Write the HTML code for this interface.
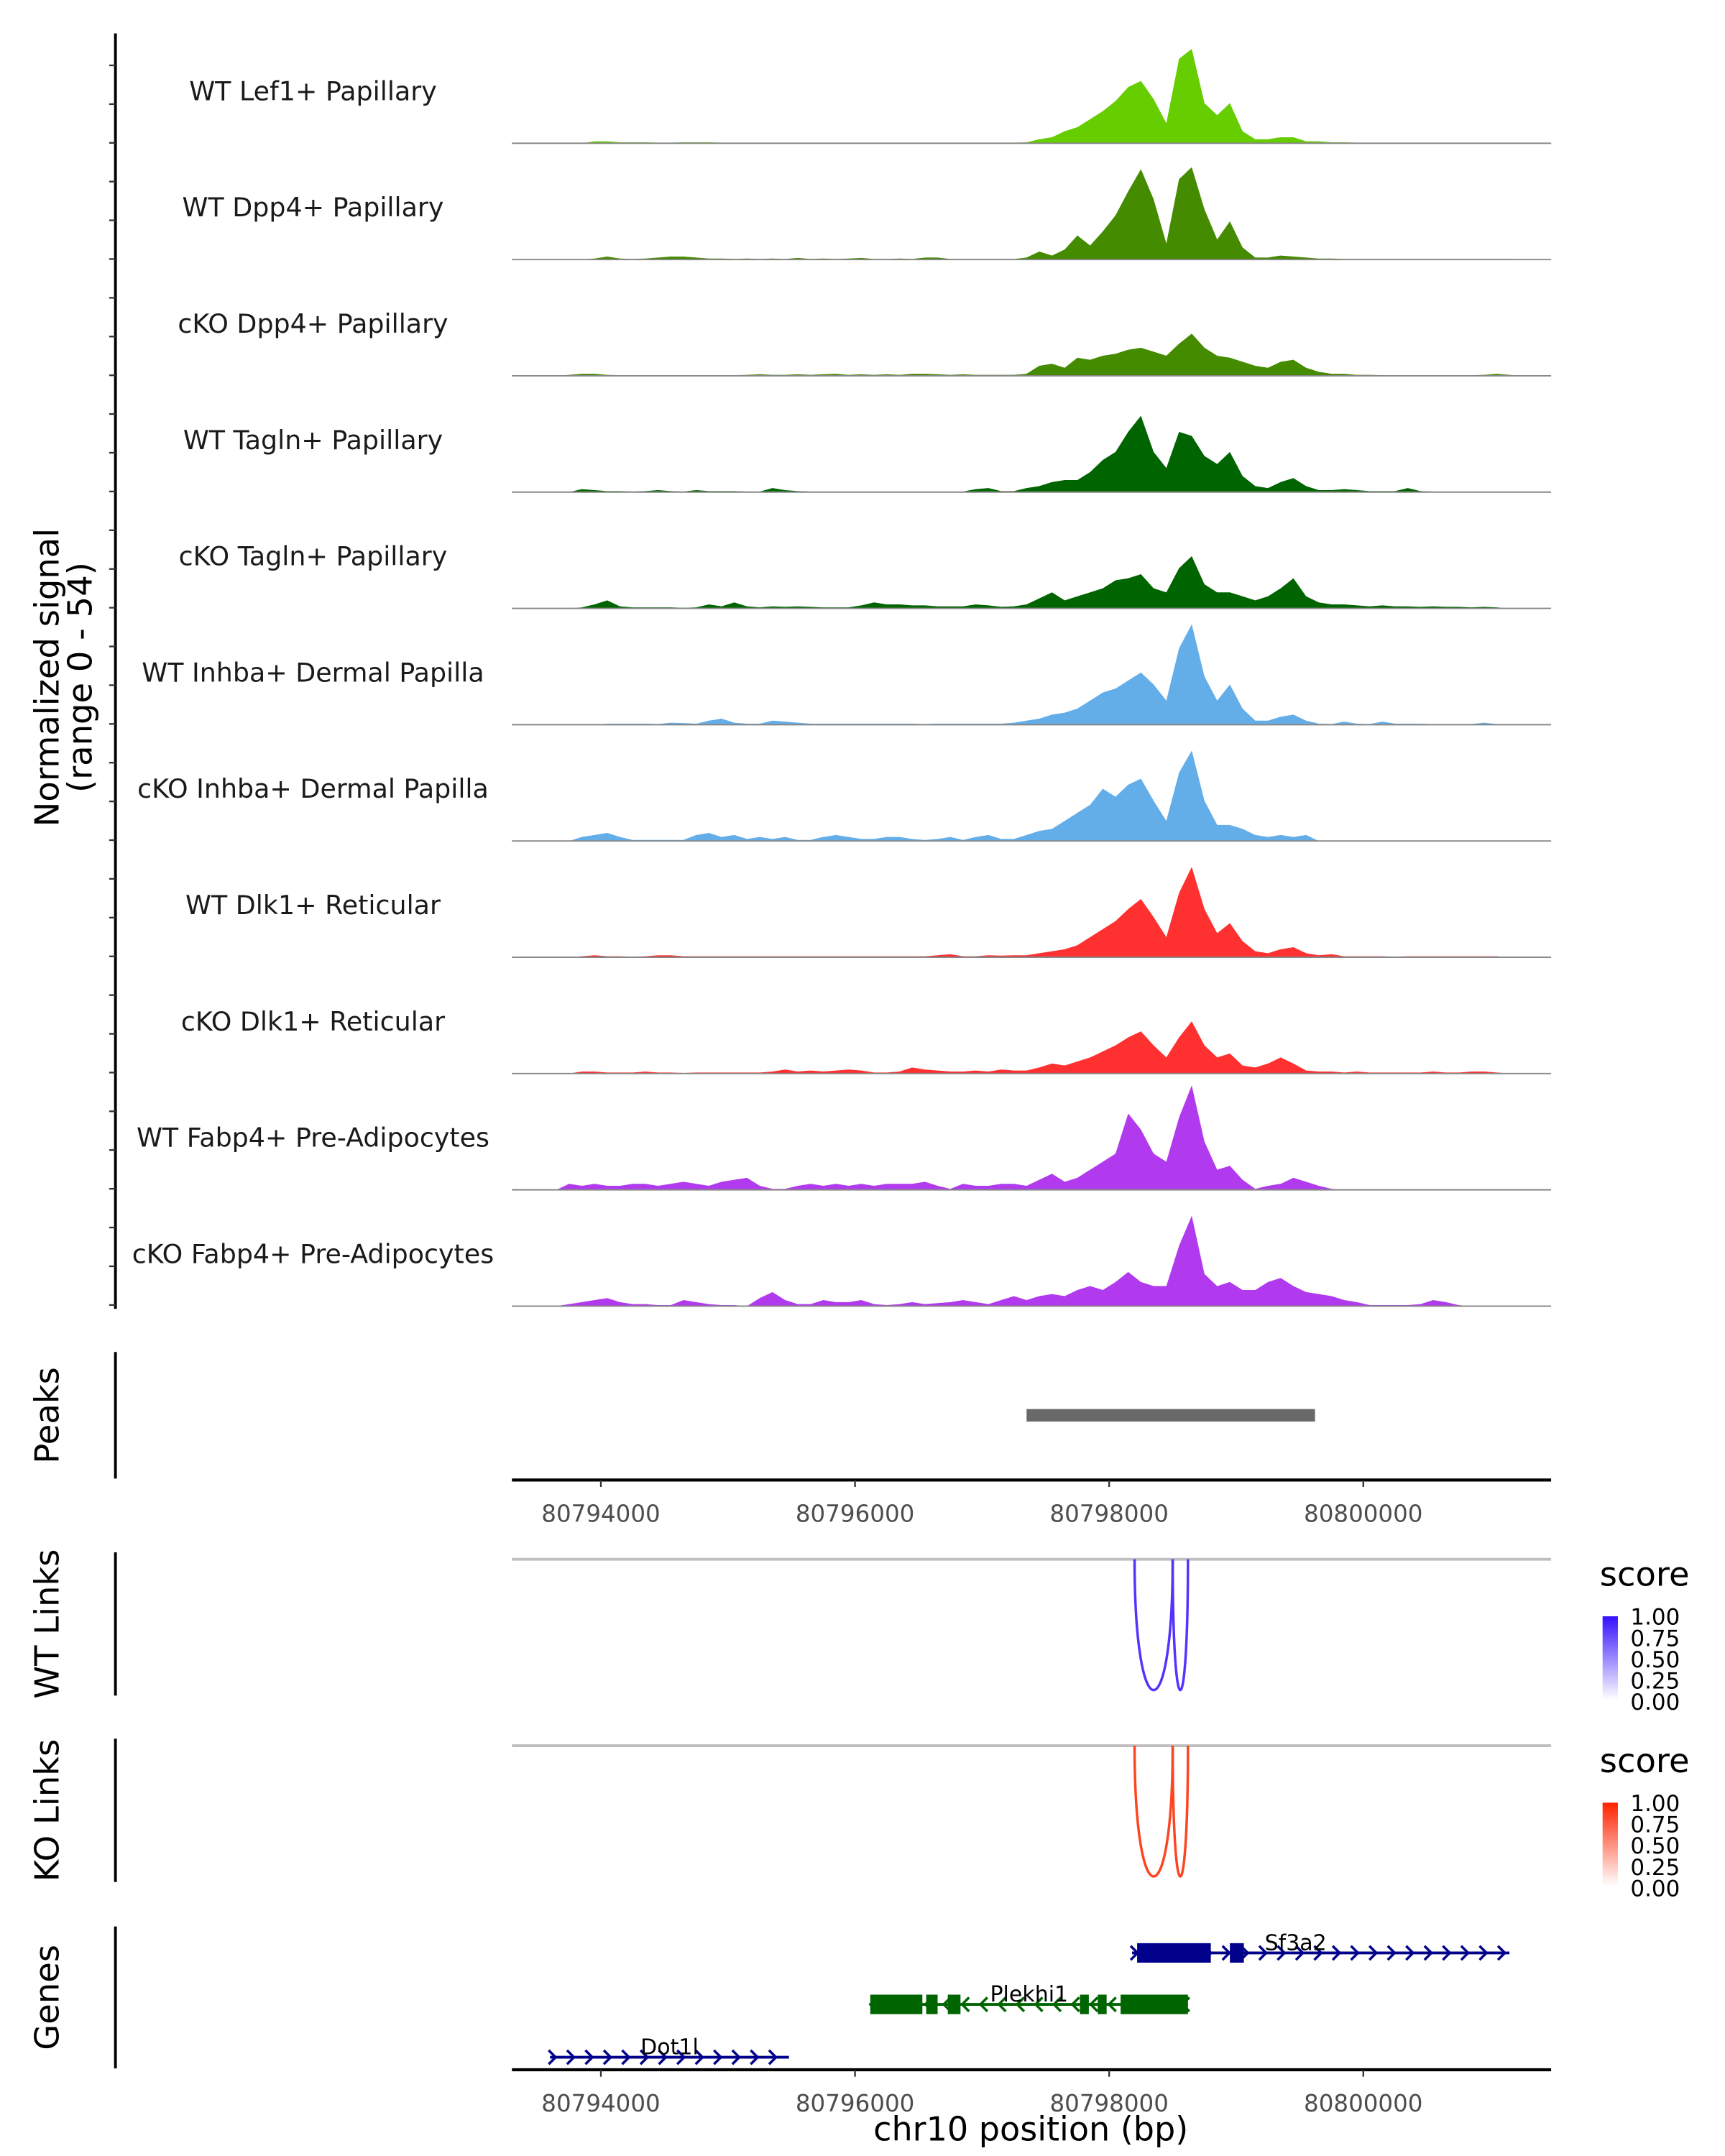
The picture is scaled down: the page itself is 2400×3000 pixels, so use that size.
<!DOCTYPE html>
<html><head><meta charset="utf-8"><style>
html,body{margin:0;padding:0;background:#fff}
svg{display:block}
text{font-family:"DejaVu Sans","Liberation Sans",sans-serif}
</style></head><body>
<svg id="chart" xmlns="http://www.w3.org/2000/svg" width="2400" height="3000" viewBox="0 0 1240 1550">
<rect width="1240" height="1550" fill="#fff"/>
<g id="g"></g>
</svg>
<script>
const trackNames=["WT Lef1+ Papillary","WT Dpp4+ Papillary","cKO Dpp4+ Papillary","WT Tagln+ Papillary","cKO Tagln+ Papillary","WT Inhba+ Dermal Papilla","cKO Inhba+ Dermal Papilla","WT Dlk1+ Reticular","cKO Dlk1+ Reticular","WT Fabp4+ Pre-Adipocytes","cKO Fabp4+ Pre-Adipocytes"];
const trackColors=["#66CD00","#458B00","#458B00","#006400","#006400","#63ADE9","#63ADE9","#FF3030","#FF3030","#B23AEE","#B23AEE"];
const binStart=80793300, binSize=100;
const sigLef1WT=[0,0,0,0,0,0,1,1,0.5,0.5, 0.5,0.3,0.3,0.5,0.5,0.5,0.3,0.3,0.2,0.2, 0.2,0.2,0.2,0.2,0.2,0.2,0.2,0.2,0.2,0.2, 0.2,0.2,0.2,0.2,0.2,0.3,0.3,0.3,0.3,0.3, 0.5,2,3,6,8,12,16,21,28,31, 22,10,42,47,20,14,20,6,2,2, 3,3,1,1,0.5,0.5,0.3,0.3,0.2,0.2, 0.2,0.2,0.2,0.2,0.2,0.2,0.2,0.2,0.2,0.2,0.2,0.2];
const sigDpp4WT=[0,0,0,0,0,0,0.5,1.5,0.5,0.3, 0.5,1,1.5,1.5,1,0.5,0.5,0.3,0.5,0.3, 0.5,0.3,0.8,0.3,0.5,0.3,0.5,0.8,0.3,0.3, 0.5,0.3,1,1,0.3,0.3,0.3,0.3,0.3,0.3, 1,4,2,5,12,7,14,22,34,45, 30,8,40,46,25,10,19,6,1,1, 2,1.5,1,0.5,0.5,0.3,0.3,0.3,0.3,0.3, 0.3,0.3,0.3,0.3,0.3,0.3,0.3,0.3,0.3,0,0,0];
const sigDpp4KO=[0,0,0,0,0.5,1,1,0.5,0.3,0.3, 0.3,0.3,0.3,0.3,0.3,0.3,0.3,0.3,0.5,0.8, 0.5,0.5,0.8,0.5,0.8,1,0.5,0.8,0.5,0.8, 0.5,1,1,0.8,0.5,0.8,0.5,0.5,0.5,0.5, 1,5,6,4,9,8,10,11,13,14, 12,10,16,21,14,10,9,7,5,4, 7,8,4,2,1,1,0.5,0.5,0.3,0.3, 0.3,0.3,0.3,0.3,0.3,0.3,0.5,1,0.5,0,0,0];
const sigTaglnWT=[0,0,0,0,0,1.5,1,0.5,0.5,0.3, 0.5,1,0.5,0.3,1,0.5,0.5,0.5,0.3,0.3, 2,1,0.5,0.3,0.3,0.3,0.3,0.3,0.3,0.3, 0.3,0.3,0.3,0.3,0.3,0.3,1.5,2,0.5,0.5, 2,3,5,6,6,10,16,20,30,38, 20,12,30,28,18,14,20,8,3,2, 5,7,3,1,1,1.5,1,0.5,0.5,0.5, 2,0.5,0.3,0.3,0.3,0.3,0.3,0.3,0,0,0,0];
const sigTaglnKO=[0,0,0,0,0,0.5,2,4,1,0.5, 0.5,0.5,0.5,0.3,0.5,2,1,3,1,0.5, 1,0.8,1,0.8,0.5,0.5,0.5,1.5,3,2, 2,1.5,1.5,1,1,1,2,1.5,0.8,1, 2,5,8,4,6,8,10,14,15,17, 10,8,20,26,12,8,8,6,4,6, 10,15,6,3,2,2,1.5,1,1.5,1, 1,0.8,1,0.8,0.8,0.5,0.8,0.5,0,0,0,0];
const sigInhbaWT=[0,0,0,0,0,0,0,0.5,0.5,0.5, 0.5,0.3,1,0.8,0.5,2,3,1,0.5,0.5, 2,1.5,1,0.5,0.5,0.5,0.5,0.5,0.5,0.5, 0.5,0.5,0.3,0.5,0.5,0.5,0.5,0.5,0.5,1, 2,3,5,6,8,12,16,18,22,26, 20,12,38,50,24,12,20,8,2,2, 4,5,2,0.5,0.3,1.5,0.5,0.3,1.5,0.5, 0.5,0.5,0.3,0.3,0.3,0.3,1,0.3,0,0,0,0];
const sigInhbaKO=[0,0,0,0,0,2,3,4,2,0.5, 0.5,0.5,0.5,0.5,3,4,2,3,1,2, 1,2,0.5,0.5,2,3,2,1,1,2, 2,1,0.5,1,2,0.5,2,3,1,1, 3,5,6,10,14,18,26,22,28,31, 20,10,34,45,20,8,8,6,3,2, 3,2,3,0,0,0,0,0,0,0, 0,0,0,0,0,0,0,0,0,0,0,0];
const sigDlk1WT=[0,0,0,0,0,0.5,1,0.5,0.5,0.3, 0.5,1,1,0.5,0.5,0.5,0.5,0.5,0.5,0.5, 0.5,0.5,0.5,0.5,0.5,0.5,0.5,0.5,0.5,0.5, 0.5,0.5,0.5,1,1.5,0.5,0.5,1,0.8,1, 1,2,3,4,6,10,14,18,24,29, 20,10,32,45,24,12,17,8,3,2, 4,5,2,1,1.5,0.5,0.5,0.5,0.5,0.3, 0.5,0.5,0.5,0.5,0.5,0.5,0.5,0.5,0,0,0,0];
const sigDlk1KO=[0,0,0,0,0,1,1,0.5,0.5,0.5, 1,0.5,0.5,0.3,0.5,0.5,0.5,0.5,0.5,0.5, 1,2,1,1.5,1,1.5,2,1.5,0.5,0.5, 1,3,2,1.5,1,1,1.5,1,2,1.5, 1.5,3,5,4,6,8,11,14,18,21, 14,8,18,26,14,8,10,4,3,5, 8,5,1.5,1,1,0.5,1,0.5,0.5,0.5, 0.5,0.5,1,0.5,0.5,1,1,0.5,0,0,0,0];
const sigFabp4WT=[0,0,0,0,3,2,3,2,2,3, 3,2,3,4,3,2,4,5,6,2, 0.5,0.5,2,3,2,3,2,3,2,3, 3,3,4,2,0.5,3,2,2,3,3, 2,5,8,4,6,10,14,18,38,30, 18,14,36,52,24,10,12,5,0.5,2, 3,6,4,2,0.5,0,0,0,0,0, 0,0,0,0,0,0,0,0,0,0,0,0];
const sigFabp4KO=[0,0,0,0,1,2,3,4,2,1, 1,0.5,0.5,3,2,1,0.5,0.5,0,4, 7,3,1,1,3,2,2,3,1,0.5, 1,2,1,1.5,2,3,2,1,3,5, 3,5,6,5,8,10,8,12,17,12, 10,10,30,45,16,10,12,8,8,12, 14,10,7,6,5,3,2,0.5,0.5,0.5, 0.5,1,3,2,0.5,0,0,0,0,0,0,0];
const signals=[sigLef1WT,sigDpp4WT,sigDpp4KO,sigTaglnWT,sigTaglnKO,sigInhbaWT,sigInhbaKO,sigDlk1WT,sigDlk1KO,sigFabp4WT,sigFabp4KO];
const signalMax=54;
const xTicks=[80794000,80796000,80798000,80800000];
const peakStart=80797350, peakEnd=80799620;
const wtLinks=[[80798200,80798500,1.0],[80798500,80798620,1.0]];
const koLinks=[[80798200,80798500,1.0],[80798500,80798620,1.0]];
const legendTicks=["1.00","0.75","0.50","0.25","0.00"];
const geneNames=["Sf3a2","Plekhi1","Dot1l"];
const geneStart=[80798180,80796120,80793600];
const geneEnd=[80801150,80798620,80795480];
const geneStrand=[1,-1,1];
const geneExons=[[[80798220,80798800],[80798950,80799060]],[[80796120,80796530],[80796560,80796650],[80796730,80796830],[80797770,80797840],[80797910,80797980],[80798090,80798620]],[]];
const geneColors=["#00008B","#006400","#00008B"];

const NS="http://www.w3.org/2000/svg";
const G=document.getElementById('g');
function mk(tag,attrs,parent){const e=document.createElementNS(NS,tag);for(const k in attrs)e.setAttribute(k,attrs[k]);(parent||G).appendChild(e);return e;}
const X0=80793300,X1=80801478,PX0=368,PX1=1115;
function xs(bp){return PX0+(bp-X0)*(PX1-PX0)/(X1-X0);}
const trackH=83.6, base0=103, unitPx=78/signalMax;
function ys(k,v){return base0+k*trackH-v*unitPx;}

let e=mk('line',{x1:83,y1:24,x2:83,y2:941,stroke:'#000','stroke-width':2});


for(let y=47;y<=941;y+=27.85){
  e=mk('line',{x1:78.5,y1:y,x2:83,y2:y,stroke:'#333','stroke-width':1.2});
  
  
}
e=mk('text',{x:0,y:0,transform:'translate(42,487) rotate(-90)','text-anchor':'middle','font-size':24,fill:'#000'});
e.textContent='Normalized signal';


e=mk('text',{x:0,y:0,transform:'translate(66,487) rotate(-90)','text-anchor':'middle','font-size':24,fill:'#000'});
e.textContent='(range 0 - 54)';



signals.forEach((s,k)=>{
  const b=ys(k,0);
  let d='M'+xs(binStart)+','+b;
  s.forEach((v,i)=>{d+=' L'+xs(binStart+binSize*i+binSize/2).toFixed(2)+','+ys(k,v).toFixed(2);});
  d+=' L'+xs(binStart+binSize*s.length)+','+b+' Z';
  let p=mk('path',{d:d,fill:trackColors[k]});
  
  
  let l=mk('line',{x1:PX0,y1:b,x2:PX1,y2:b,stroke:'#888','stroke-width':1});
  
  
  let t=mk('text',{x:225,y:b-31,'text-anchor':'middle','font-size':18.8,fill:'#1a1a1a'});
  t.textContent=trackNames[k];
  
  
});

function sideAxis(y1,y2,label,name){
  let a=mk('line',{x1:83,y1:y1,x2:83,y2:y2,stroke:'#000','stroke-width':2});
  
  
  let t=mk('text',{x:0,y:0,transform:'translate(42,'+((y1+y2)/2)+') rotate(-90)','text-anchor':'middle','font-size':24,fill:'#000'});
  t.textContent=label;
  
  
}
function xAxis(y,name){
  let a=mk('line',{x1:PX0,y1:y,x2:PX1,y2:y,stroke:'#000','stroke-width':2.2});
  
  
  xTicks.forEach(v=>{
    let t=mk('line',{x1:xs(v),y1:y,x2:xs(v),y2:y+5,stroke:'#333','stroke-width':1.2});
    
    
    let l=mk('text',{x:xs(v),y:y+30,'text-anchor':'middle','font-size':16.8,fill:'#4d4d4d'});
    l.textContent=String(v);
    
    
  });
}
sideAxis(972,1063,'Peaks','peaks');
e=mk('rect',{x:xs(peakStart),y:1013,width:xs(peakEnd)-xs(peakStart),height:9,fill:'#696969'});


xAxis(1064,'peaks');

function links(y1,y2,arr,col,name,legY,gradId,c1){
  sideAxis(y1,y2,name==='wt'?'WT Links':'KO Links',name+'-links');
  let g=mk('line',{x1:PX0,y1:y1+5,x2:PX1,y2:y1+5,stroke:'#bfbfbf','stroke-width':2});
  
  
  arr.forEach(a=>{
    const xa=xs(a[0]),xb=xs(a[1]),top=y1+5,bot=y2-4;
    const cy=top+(bot-top)*4/3;
    let p=mk('path',{d:'M'+xa+','+top+' C'+xa+','+cy+' '+xb+','+cy+' '+xb+','+top,fill:'none',stroke:col,'stroke-width':1.8,opacity:a[2]});
    
    
  });
  let t=mk('text',{x:1150,y:legY,'font-size':24,fill:'#000'});
  t.textContent='score';
  
  
  const defs=mk('defs',{});
  const lg=mk('linearGradient',{id:gradId,x1:0,y1:0,x2:0,y2:1},defs);
  mk('stop',{offset:'0','stop-color':c1},lg);
  mk('stop',{offset:'1','stop-color':'#ffffff'},lg);
  let r=mk('rect',{x:1152,y:legY+22,width:11,height:60,fill:'url(#'+gradId+')'});
  
  
  legendTicks.forEach((s,i)=>{
    let l=mk('text',{x:1172,y:legY+28+i*15.3,'font-size':16,fill:'#000'});
    l.textContent=s;
    
    
  });
}
links(1116,1219,wtLinks,'#5533FF','wt',1140,'gw','#3311FF');
links(1250,1353,koLinks,'#FF4422','ko',1274,'gk','#FF2200');

sideAxis(1385,1487,'Genes','genes');
const geneY=[1404,1441,1479];
geneNames.forEach((n,k)=>{
  const y=geneY[k],c=geneColors[k];
  let l=mk('line',{x1:xs(geneStart[k]),y1:y,x2:xs(geneEnd[k]),y2:y,stroke:c,'stroke-width':2});
  
  
  for(let x=xs(geneStart[k])+2;x<=xs(geneEnd[k]);x+=13.2){
    const s=geneStrand[k];
    let ch=mk('polyline',{points:(x-3*s)+','+(y-5)+' '+(x+2*s)+','+y+' '+(x-3*s)+','+(y+5),fill:'none',stroke:c,'stroke-width':1.8});
    
    
  }
  geneExons[k].forEach(ex=>{
    let r=mk('rect',{x:xs(ex[0]),y:y-7,width:xs(ex[1])-xs(ex[0]),height:14,fill:c});
    
    
  });
  let t=mk('text',{x:xs((geneStart[k]+geneEnd[k])/2)+(k===0?-18:0),y:y-2,'text-anchor':'middle','font-size':15.5,fill:'#000'});
  t.textContent=n;
  
  
});
xAxis(1488,'genes');
e=mk('text',{x:741,y:1539,'text-anchor':'middle','font-size':23.8,fill:'#000'});
e.textContent='chr10 position (bp)';


</script>
</body></html>
